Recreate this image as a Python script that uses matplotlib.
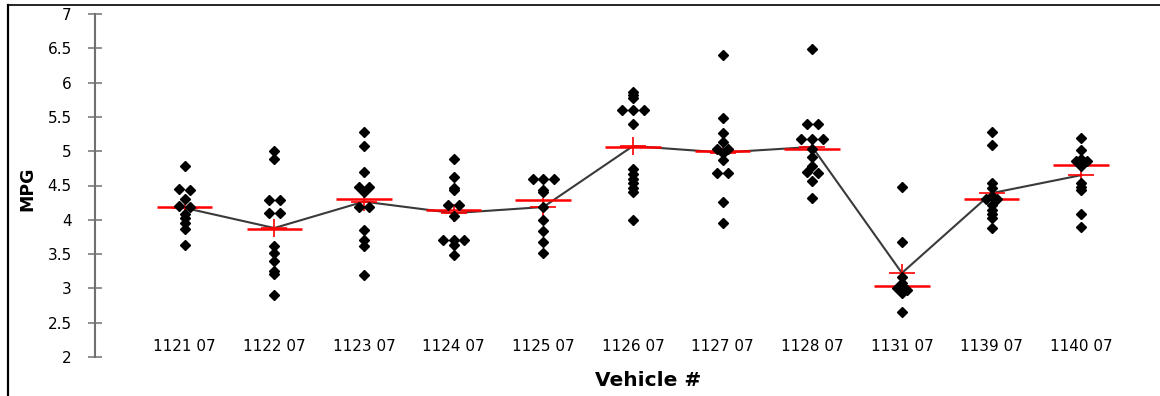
import numpy as np
import matplotlib.pyplot as plt
from matplotlib.lines import Line2D
from matplotlib.ticker import FormatStrFormatter

# MPG readings per vehicle
vehicles = ['1121 07', '1122 07', '1123 07', '1124 07', '1125 07', '1126 07',
            '1127 07', '1128 07', '1131 07', '1139 07', '1140 07']

mpg_1121 = [4.78, 4.45, 4.43, 4.30, 4.20, 4.18, 4.09, 4.03, 3.95, 3.87, 3.63]
mpg_1122 = [5.00, 4.88, 4.29, 4.29, 4.10, 4.10, 3.62, 3.51, 3.40, 3.25, 3.21, 2.91]
mpg_1123 = [5.28, 5.08, 4.69, 4.48, 4.48, 4.41, 4.19, 4.19, 3.85, 3.71, 3.62, 3.20]
mpg_1124 = [4.89, 4.63, 4.47, 4.43, 4.22, 4.22, 4.06, 3.71, 3.71, 3.71, 3.63, 3.49]
mpg_1125 = [4.60, 4.60, 4.60, 4.44, 4.40, 4.19, 4.00, 3.84, 3.68, 3.51]
mpg_1126 = [5.87, 5.82, 5.77, 5.60, 5.60, 5.60, 5.39, 4.74, 4.67, 4.60, 4.53, 4.46,
            4.41, 3.99]
mpg_1127 = [6.40, 5.48, 5.27, 5.13, 5.03, 5.03, 4.98, 4.87, 4.68, 4.68, 4.26, 3.96]
mpg_1128 = [6.49, 5.39, 5.39, 5.18, 5.18, 5.18, 5.03, 4.92, 4.78, 4.70, 4.68, 4.57,
            4.32]
mpg_1131 = [4.48, 3.68, 3.16, 3.08, 3.04, 3.00, 2.98, 2.94, 2.66]
mpg_1139 = [5.28, 5.09, 4.54, 4.46, 4.34, 4.30, 4.30, 4.22, 4.15, 4.08, 4.02, 3.88]
mpg_1140 = [5.19, 5.02, 4.88, 4.85, 4.85, 4.82, 4.78, 4.53, 4.48, 4.43, 4.09, 3.89]

runs = [mpg_1121, mpg_1122, mpg_1123, mpg_1124, mpg_1125, mpg_1126,
        mpg_1127, mpg_1128, mpg_1131, mpg_1139, mpg_1140]

y_ticks = [2, 2.5, 3, 3.5, 4, 4.5, 5, 5.5, 6, 6.5, 7]


def spread(values, step=0.12, tol=0.025):
    # put near-equal readings side by side so they don't hide each other
    vals = sorted(values, reverse=True)
    offs = []
    i = 0
    while i < len(vals):
        j = i
        while j + 1 < len(vals) and round(vals[i] - vals[j + 1], 3) <= tol:
            j += 1
        n = j - i + 1
        offs += [(k - (n - 1) / 2) * step for k in range(n)]
        i = j + 1
    return np.array(vals), np.array(offs)


plt.rcParams['font.family'] = 'DejaVu Sans'

fig = plt.figure(figsize=(11.6, 3.96), dpi=100)
ax = fig.add_axes([95 / 1160, 39 / 396, 1040 / 1160, 343 / 396])

x = np.arange(1, len(vehicles) + 1)
means = [np.mean(r) for r in runs]
medians = [np.median(r) for r in runs]

# line through the means
ax.plot(x, means, color='#3a3a3a', lw=1.5, zorder=2)

# median bars and mean crosses
ax.hlines(medians, x - 0.31, x + 0.31, color='red', lw=1.8, zorder=3)
ax.plot(x, means, ls='none', marker='_', ms=19, mew=1.2, color='red', zorder=3)
ax.plot(x, means, ls='none', marker='|', ms=13, mew=1.2, color='red', zorder=3)

for xi, r in zip(x, runs):
    vals, offs = spread(r)
    ax.plot(xi + offs, vals, ls='none', marker='D', ms=5.5, color='black',
            mec='black', zorder=4)

ax.set_xlim(0, 11.6)
ax.set_ylim(2, 7)
ax.set_yticks(y_ticks)
ax.yaxis.set_major_formatter(FormatStrFormatter('%g'))
ax.set_xticks([])

for s in ['top', 'right', 'bottom']:
    ax.spines[s].set_visible(False)
ax.spines['left'].set_color('#707070')
ax.spines['left'].set_linewidth(1.5)
ax.tick_params(axis='y', direction='inout', length=9.4, width=1.1,
               color='#707070', pad=12, labelsize=11)

# vehicle names sit just above the bottom of the value range
for xi, name in zip(x, vehicles):
    ax.text(xi, 2.15, name, ha='center', va='center', fontsize=11)

fig.text(0.0233, 0.523, 'MPG', rotation=90, ha='center', va='center',
         fontsize=12.5, fontweight='bold')
fig.text(648 / 1160, 0.038, 'Vehicle #', ha='center', va='center',
         fontsize=14.5, fontweight='bold')

# frame on the left and top of the chart area
fig.add_artist(Line2D([8 / 1160, 8 / 1160], [0, 1 - 5 / 396],
                      transform=fig.transFigure, color='black', lw=1.6))
fig.add_artist(Line2D([8 / 1160, 1], [1 - 5 / 396, 1 - 5 / 396],
                      transform=fig.transFigure, color='black', lw=1.2))

fig.savefig('out.png', dpi=100)
